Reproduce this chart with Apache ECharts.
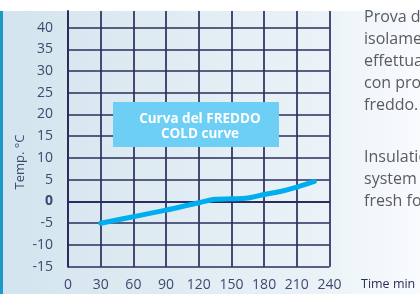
<!DOCTYPE html>
<html>
<head>
<meta charset="utf-8">
<script src="https://cdn.jsdelivr.net/npm/echarts@6/dist/echarts.min.js"></script>
<style>
  html, body {margin: 0; padding: 0; background: #ffffff;}
  #chart {width: 420px; height: 294px;}
</style>
</head>
<body>
<div id="chart"></div>
<script>
// curva del freddo: tempo (min) / temperatura (°C)
const timeMin = [30, 60, 90, 120, 135, 150, 165, 180, 195, 210, 226];
const tempC = [-5, -3.5, -2, -0.3, 0.5, 0.6, 0.8, 1.6, 2.3, 3.3, 4.6];
const xTicks = [0, 30, 60, 90, 120, 150, 180, 210, 240];
const yTicks = [-15, -10, -5, 0, 5, 10, 15, 20, 25, 30, 35, 40];
const labelLines = ['Curva del FREDDO', 'COLD curve'];
const textIt = 'Prova di\nisolamento\neffettuata\ncon prodotto\nfreddo.';
const textEn = 'Insulation\nsystem test\nfresh food.';

const gridColor = '#2b2e5c';
const chart = echarts.init(document.getElementById('chart'));

const option = {
  animation: false,
  textStyle: {fontFamily: 'Open Sans'},
  grid: {left: 68, right: 90.5, top: 11, bottom: 27.3},
  xAxis: {
    type: 'value',
    min: xTicks[0],
    max: xTicks[xTicks.length - 1],
    interval: 30,
    axisLine: {show: true, lineStyle: {color: gridColor, width: 2}},
    axisTick: {show: false},
    axisLabel: {color: '#3f4870', fontSize: 14, margin: 11},
    splitLine: {show: true, lineStyle: {color: gridColor, width: 1.7}}
  },
  yAxis: {
    type: 'value',
    min: yTicks[0],
    max: 43.8,
    interval: 5,
    axisLine: {show: true, lineStyle: {color: gridColor, width: 2}},
    axisTick: {show: false},
    axisLabel: {
      color: '#3f4870', fontSize: 14, margin: 15, showMaxLabel: false,
      formatter: function (v) {
        if (yTicks.indexOf(v) < 0) return '';
        return v === 0 ? '{b|0}' : String(v);
      },
      rich: {b: {fontWeight: 'bold', fontSize: 14, color: '#3f4870'}}
    },
    splitLine: {show: true, showMaxLine: false, lineStyle: {color: gridColor, width: 1.7}}
  },
  series: [{
    type: 'line',
    data: timeMin.map((t, i) => [t, tempC[i]]),
    smooth: 0.3,
    showSymbol: false,
    lineStyle: {color: '#00aeef', width: 5, cap: 'round'},
    z: 5
  }],
  graphic: [
    {
      type: 'rect', z: -10, silent: true,
      shape: {x: 0, y: 11, width: 420, height: 283},
      style: {
        fill: new echarts.graphic.LinearGradient(0, 0, 1, 0, [
          {offset: 0, color: '#d3e4ee'},
          {offset: 0.75, color: '#eaf2f7'},
          {offset: 1, color: '#f9fbfd'}
        ])
      }
    },
    {type: 'rect', z: -9, silent: true, shape: {x: 0, y: 11, width: 3, height: 283}, style: {fill: '#1b9ac9'}},
    {
      type: 'text', x: 20, y: 162, rotation: Math.PI / 2, z: 10,
      style: {text: 'Temp. °C', fontSize: 13, fill: '#3f4870', align: 'center', verticalAlign: 'middle', fontFamily: 'Open Sans'}
    },
    {
      type: 'rect', z: 20,
      shape: {x: 113, y: 102, width: 166, height: 45},
      style: {fill: '#6dcff6'}
    },
    {
      type: 'text', x: 200, y: 126.5, z: 21,
      style: {
        text: labelLines.join('\n'), fill: '#ffffff', fontSize: 13.5, fontWeight: 'bold',
        lineHeight: 14.5, align: 'center', verticalAlign: 'middle', fontFamily: 'Open Sans'
      }
    },
    {
      type: 'text', x: 361, y: 284, z: 10,
      style: {text: 'Time min', fontSize: 12.5, fill: gridColor, verticalAlign: 'middle', fontFamily: 'Open Sans'}
    },
    {
      type: 'text', x: 364, y: 6, z: 10,
      style: {text: textIt, fontSize: 16, lineHeight: 22, fill: '#5a5b5e', fontFamily: 'Open Sans'}
    },
    {
      type: 'text', x: 364, y: 146, z: 10,
      style: {text: textEn, fontSize: 16, lineHeight: 22, fill: '#5a5b5e', fontFamily: 'Open Sans'}
    }
  ]
};

chart.setOption(option);
</script>
</body>
</html>
